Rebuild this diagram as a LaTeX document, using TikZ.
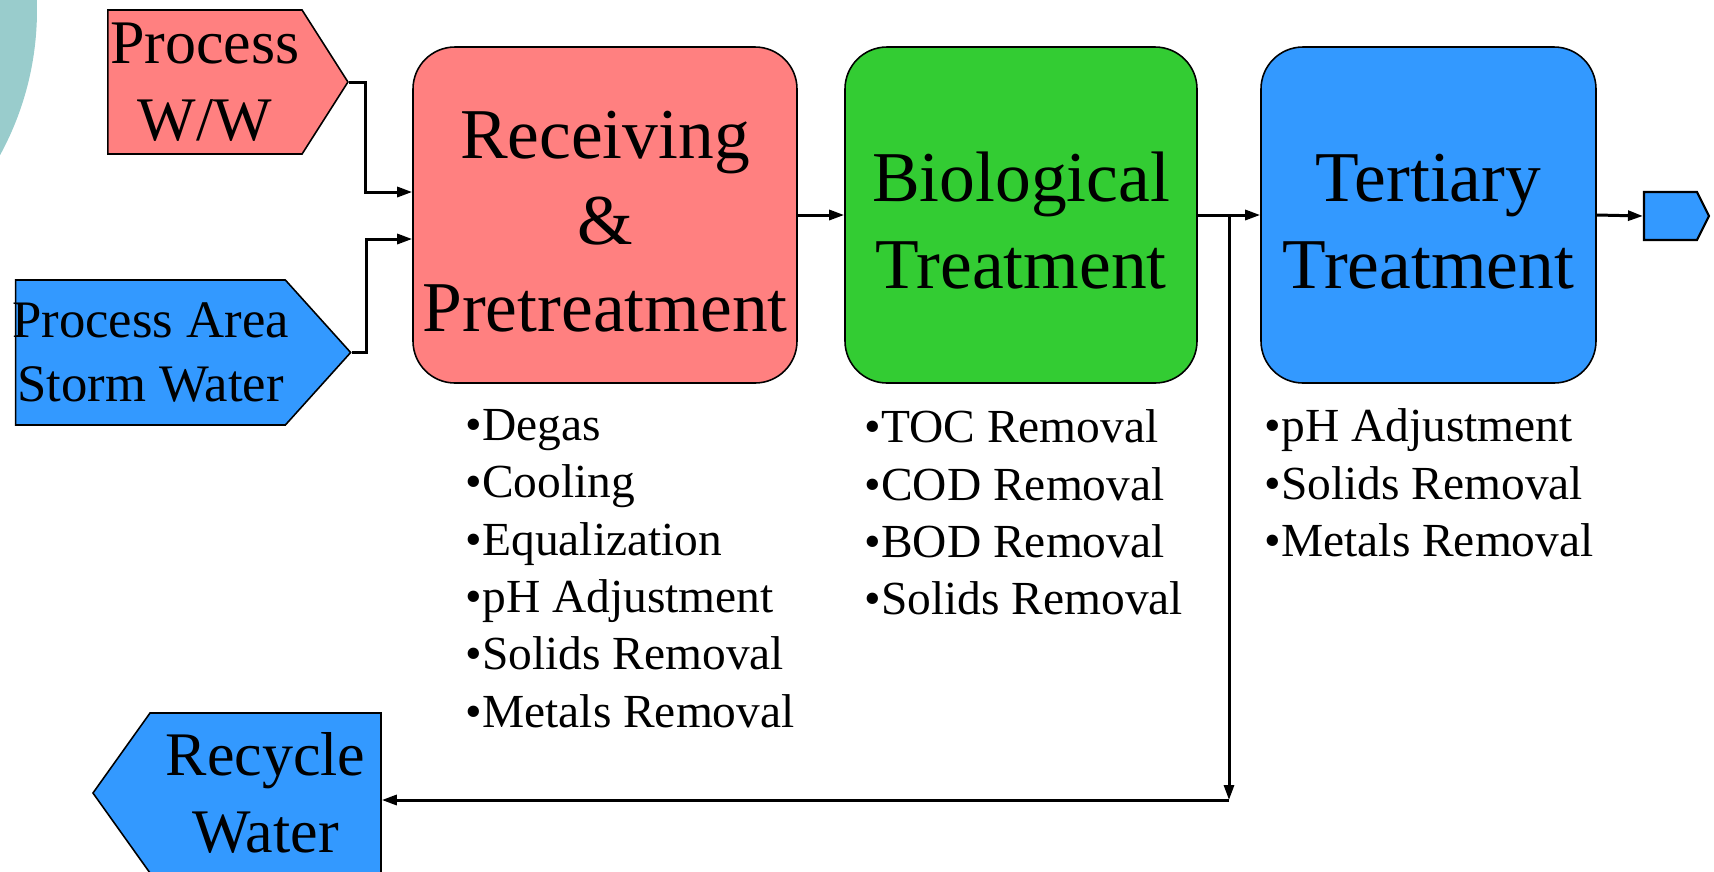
\documentclass[tikz,border=0pt]{standalone}
\usepackage{fontspec}
\setmainfont{Liberation Serif}
\usetikzlibrary{arrows.meta,shapes.symbols,calc}

\definecolor{wwpink}{RGB}{255,128,128}
\definecolor{stormblue}{RGB}{51,153,255}
\definecolor{biogreen}{RGB}{51,204,51}
\definecolor{slideteal}{RGB}{153,204,204}

\tikzset{
  stage/.style={draw=black, line width=0.45pt, rounded corners=0.42cm,
    minimum height=3.36cm, inner sep=0pt, align=center,
    font=\fontsize{20.34}{24.6}\selectfont},
  stream/.style={signal, draw=black, line width=0.45pt, inner sep=0pt, align=center},
  steps/.style={anchor=north west, inner sep=0pt, align=left,
    font=\fontsize{13.5}{16.33}\selectfont},
  flow/.style={line width=0.85pt, -{Triangle[length=1.5mm,width=1.0mm]}},
}

\begin{document}
\begin{tikzpicture}
    \def\bigfont{\fontsize{17.64}{21.9}\selectfont}
    \useasboundingbox (0,0) rectangle (17.14,-8.71);

    % slide decoration
    \fill[slideteal] (-2.66,-0.1) circle (3.03);

    % inflows
    \node[stream, fill=wwpink, minimum width=2.40cm, minimum height=1.44cm,
      signal pointer angle=115, font=\bigfont] (ww) at (2.05,-0.82) {Process\\W/W};
    \node[stream, fill=stormblue, inner xsep=-0.035cm, minimum width=3.35cm, minimum height=1.45cm,
      signal pointer angle=96, font=\fontsize{15}{18.2}\selectfont] (storm) at (1.505,-3.525) {Process Area\\Storm Water};

    % stages
    \node[stage, fill=wwpink, minimum width=3.84cm] (recv) at (6.05,-2.15) {\strut Receiving\\\&\\Pretreatment};
    \node[stage, fill=biogreen, minimum width=3.52cm] (bio) at (10.21,-2.15) {\strut Biological\\Treatment};
    \node[stage, fill=stormblue, minimum width=3.35cm] (tert) at (14.285,-2.15) {\strut Tertiary\\Treatment};

    % outflows
    \node[stream, fill=stormblue, line width=0.6pt, minimum width=0.65cm, minimum height=0.48cm,
      signal pointer angle=127] (outlet) at (16.705,-2.16) {};
    \node[stream, fill=stormblue, signal to=west, minimum width=2.88cm, minimum height=1.60cm,
      signal pointer angle=109, font=\bigfont] (recycle) at (2.655,-7.93) {Recycle\\Water};

    % what each stage does
    \node[steps] (recvlist) at (4.65,-4.085) {\textbullet Degas\\\textbullet Cooling\\\textbullet Equalization\\\textbullet pH Adjustment\\\textbullet Solids Removal\\\textbullet Metals Removal};
    \node[steps] (biolist) at (8.64,-4.09) {\textbullet TOC Removal\\\textbullet COD Removal\\\textbullet BOD Removal\\\textbullet Solids Removal};
    \node[steps] (tertlist) at (12.64,-4.08) {\textbullet pH Adjustment\\\textbullet Solids Removal\\\textbullet Metals Removal};

    % flows
    \draw[flow] (ww.east) -- ++(0.17,0) |- ([yshift=0.23cm]recv.west);
    \draw[flow] (storm.east) -- ++(0.15,0) |- ([yshift=-0.24cm]recv.west);
    \draw[flow] (recv.east) -- (bio.west);
    \draw[flow] (bio.east) -- (tert.west);
    \draw[flow] (tert.east) -- (outlet.west);

    \coordinate (split) at ($(bio.east)!0.5!(tert.west)$);
    \coordinate (turn) at ([yshift=-5.85cm]split);
    \draw[flow] (split) -- (turn);
    \draw[flow] (turn) -- (turn -| recycle.east);
\end{tikzpicture}
\end{document}
